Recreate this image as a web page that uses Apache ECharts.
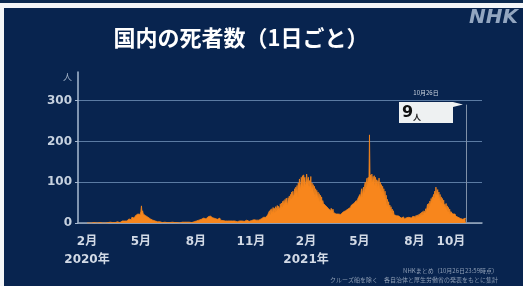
<!DOCTYPE html>
<html><head><meta charset="utf-8">
<script src="https://cdn.jsdelivr.net/npm/echarts@6/dist/echarts.min.js"></script>
<style>html,body{margin:0;padding:0;background:#08244f;}#c{width:523px;height:286px;}</style>
</head><body><div id="c"></div>
<script>
// ---- data (daily deaths, NHK), month by month ----
const dataStart = '2020-02-01';
const m2020_02 = [0,0,0,0,0,0,0,0,0,0,0,0,1,0,0,0,0,0,1,1,0,0,1,0,1,1,0,1,0];
const m2020_03 = [1,1,0,2,1,0,1,2,1,0,2,3,1,0,1,2,1,3,1,0,2,1,3,0,2,3,1,2,4,3,5];
const m2020_04 = [2,4,3,5,6,4,7,5,8,6,10,7,9,12,8,14,11,13,16,12,15,18,14,20,17,22,19,24,26,21];
const m2020_05 = [28,42,25,30,22,26,20,24,18,22,15,19,14,17,12,15,10,13,8,11,7,9,6,8,5,6,4,5,3,4,3];
const m2020_06 = [2,3,1,2,4,1,2,1,3,2,1,2,0,1,3,1,2,1,0,2,1,1,2,0,1,2,1,0,1,2];
const m2020_07 = [1,0,1,2,0,1,1,0,2,1,0,1,2,1,0,1,2,0,1,1,2,1,0,2,1,3,2,1,3,4,2];
const m2020_08 = [3,5,4,6,5,7,4,8,6,9,7,10,8,12,9,11,13,10,14,12,15,11,16,13,17,14,18,15,13,16,12];
const m2020_09 = [14,11,13,10,12,9,11,8,10,12,7,9,8,10,6,9,7,8,5,7,6,8,5,7,4,6,5,7,4,6];
const m2020_10 = [5,4,6,3,5,7,4,6,3,5,4,6,5,3,7,4,5,6,3,5,4,6,5,4,7,3,6,5,4,7,5];
const m2020_11 = [5,6,4,7,5,8,6,5,9,7,6,8,10,7,9,8,11,10,9,12,10,14,13,11,16,14,18,15,20,22];
const m2020_12 = [22,30,20,33,25,35,23,38,28,36,25,40,29,38,43,31,41,45,33,47,36,49,38,53,42,55,44,58,46,61,50];
const m2021_01 = [45,62,52,66,54,70,58,76,60,78,64,70,84,72,88,74,92,66,98,86,108,96,82,112,98,116,88,118,104,112,90];
const m2021_02 = [100,120,108,96,112,88,104,92,114,80,98,82,94,74,90,66,84,68,80,60,76,56,72,52,68,54,64,46];
const m2021_03 = [55,48,52,44,50,42,46,38,44,36,40,34,38,30,36,32,28,34,26,30,24,28,22,26,20,25,22,24,19,23,21];
const m2021_04 = [22,25,20,27,24,29,23,30,26,32,28,34,30,36,32,38,35,44,40,46,42,48,45,52,48,55,50,58,54,62];
const m2021_05 = [56,70,60,76,84,64,80,88,74,94,100,82,104,110,92,112,100,216,108,118,100,120,96,114,102,116,92,112,96,106,88];
const m2021_06 = [104,92,110,84,100,80,94,74,90,68,84,62,78,56,68,44,58,40,52,34,44,30,40,26,34,22,30,20,24,22];
const m2021_07 = [20,18,19,16,14,17,15,13,16,12,14,11,13,15,10,12,14,11,13,9,12,10,14,11,13,15,12,16,14,17,15];
const m2021_08 = [12,17,11,19,14,18,20,14,22,16,24,17,26,19,28,21,30,32,25,35,28,38,46,34,48,40,54,44,60,50,64];
const m2021_09 = [58,70,60,78,66,88,74,68,82,60,76,56,70,50,64,48,60,44,56,40,46,36,48,32,42,28,38,24,34,22];
const m2021_10 = [28,24,26,22,24,20,19,22,17,19,15,18,14,16,12,14,11,13,10,12,9,11,8,10,12,9];

const axisStart = '2020-01-17';
const axisEnd = '2021-11-22';
const tickDates = ['2020-02-01','2020-05-01','2020-08-01','2020-11-01','2021-02-01','2021-05-01','2021-08-01','2021-10-01'];
const tickLabels = ['2月\n2020年','5月','8月','11月','2月\n2021年','5月','8月','10月'];
const yTicks = [0,100,200,300];

const titleText = '国内の死者数（1日ごと）';
const unitText = '人';
const noteLines = ['NHKまとめ（10月26日23:59時点）', 'クルーズ船を除く　各自治体と厚生労働省の発表をもとに集計'];

// ---- build ----
const deaths = [].concat(m2020_02,m2020_03,m2020_04,m2020_05,m2020_06,m2020_07,m2020_08,m2020_09,m2020_10,m2020_11,m2020_12,
  m2021_01,m2021_02,m2021_03,m2021_04,m2021_05,m2021_06,m2021_07,m2021_08,m2021_09,m2021_10);
const cats = [];
for (let t = Date.parse(axisStart + 'T00:00:00Z'); t <= Date.parse(axisEnd + 'T00:00:00Z'); t += 86400000) {
  cats.push(new Date(t).toISOString().slice(0,10));
}
const s0 = cats.indexOf(dataStart);
const seriesData = cats.map((c,i) => (i >= s0 && i - s0 < deaths.length) ? deaths[i - s0] : null);
const lastDate = cats[s0 + deaths.length - 1];
const lastVal = deaths[deaths.length - 1];
const lastParts = lastDate.split('-');
const lastLabel = (+lastParts[1]) + '月' + (+lastParts[2]) + '日';

const chart = echarts.init(document.getElementById('c'), null, {renderer:'canvas'});
const orange = '#f8861c';
chart.setOption({
  backgroundColor: '#08244f',
  animation: false,
  grid: {left: 78, right: 41, top: 72, bottom: 63, containLabel: false},
  xAxis: {
    type: 'category', data: cats, boundaryGap: false,
    axisLine: {lineStyle: {color: '#9aaabf', width: 1.5}},
    axisTick: {show: false},
    splitLine: {show: false},
    axisLabel: {
      interval: (i, v) => tickDates.indexOf(v) >= 0,
      formatter: v => { const k = tickDates.indexOf(v); return k >= 0 ? tickLabels[k] : ''; },
      color: '#d2dae6', fontFamily: "'DejaVu Sans','Noto Sans CJK JP'", fontWeight: 'bold', fontSize: 12,
      lineHeight: 18, margin: 10
    }
  },
  yAxis: {
    type: 'value', min: 0, max: 370, interval: 100,
    name: unitText, nameLocation: 'end', nameGap: 0,
    nameTextStyle: {color: '#9fb0c6', fontSize: 9, align: 'right', verticalAlign: 'top', padding: [0, 6, 0, 0], fontFamily: "'Noto Sans CJK JP'"},
    axisLine: {show: true, lineStyle: {color: '#a9bbd2', width: 1.5}},
    axisTick: {show: true, length: 3, lineStyle: {color: '#a9bbd2'}},
    splitLine: {show: true, showMaxLine: false, lineStyle: {color: '#5b7ba3', width: 1}},
    axisLabel: {
      showMaxLabel: false,
      formatter: v => yTicks.indexOf(v) >= 0 ? String(v) : '',
      color: '#c6d1df', fontFamily: "'DejaVu Sans'", fontWeight: 'bold', fontSize: 12, margin: 6
    }
  },
  series: [{
    type: 'line', data: seriesData, symbol: 'none', sampling: null, connectNulls: false,
    lineStyle: {color: orange, width: 0.8},
    areaStyle: {color: orange, opacity: 1},
    z: 3,
    markLine: {
      silent: true, symbol: 'none', label: {show: false},
      lineStyle: {color: '#7f90a8', width: 1, type: 'solid'},
      data: [[{coord: [lastDate, 0]}, {coord: [lastDate, 290]}]]
    }
  }],
  graphic: [
    {type: 'rect', shape: {x: 0, y: 0, width: 523, height: 3}, style: {fill: '#0d2a50'}, z: 100},
    {type: 'rect', shape: {x: 0, y: 3, width: 523, height: 5}, style: {fill: '#f4f6f8'}, z: 100},
    {type: 'rect', shape: {x: 0, y: 3, width: 4, height: 283}, style: {fill: '#f4f6f8'}, z: 100},
    {type: 'text', x: 241, y: 38, style: {text: titleText, fill: '#ffffff', font: "bold 22px 'Noto Sans CJK JP'", textAlign: 'center', textVerticalAlign: 'middle'}, z: 50},
    {type: 'text', x: 518, y: 18, style: {text: 'NHK', fill: '#93a6c0', font: "italic bold 20px 'DejaVu Sans'", textAlign: 'right', textVerticalAlign: 'middle'}, z: 50},
    {type: 'text', x: 426, y: 93, style: {text: lastLabel, fill: '#c9d2de', font: "6px 'Noto Sans CJK JP'", textAlign: 'center', textVerticalAlign: 'middle'}, z: 50},
    {type: 'rect', shape: {x: 399, y: 102, width: 54, height: 21}, style: {fill: '#eef1f2'}, z: 50},
    {type: 'polygon', shape: {points: [[453, 102], [463, 104.5], [453, 107]]}, style: {fill: '#eef1f2'}, z: 50},
    {type: 'text', x: 402, y: 113, style: {text: String(lastVal), fill: '#111111', font: "bold 16px 'DejaVu Sans'", textVerticalAlign: 'middle'}, z: 51},
    {type: 'text', x: 413, y: 117, style: {text: unitText, fill: '#222222', font: "bold 8px 'Noto Sans CJK JP'", textVerticalAlign: 'middle'}, z: 51},
    {type: 'text', x: 498, y: 271, style: {text: noteLines[0], fill: '#8d9db4', font: "6px 'Noto Sans CJK JP'", textAlign: 'right', textVerticalAlign: 'middle'}, z: 50},
    {type: 'text', x: 498, y: 280, style: {text: noteLines[1], fill: '#8d9db4', font: "6px 'Noto Sans CJK JP'", textAlign: 'right', textVerticalAlign: 'middle'}, z: 50}
  ]
});
</script></body></html>
